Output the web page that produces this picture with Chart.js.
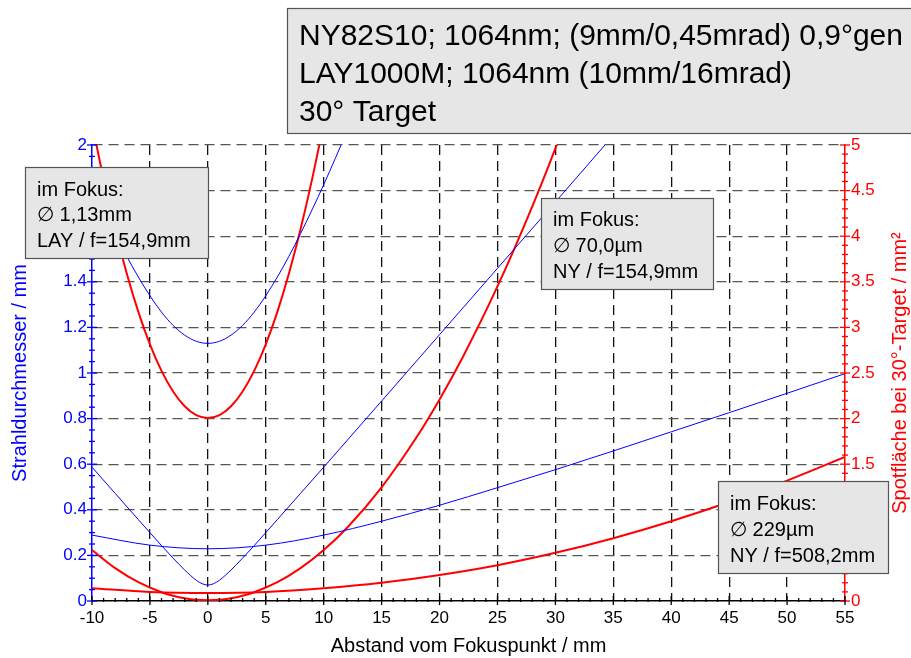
<!DOCTYPE html>
<html>
<head>
<meta charset="utf-8">
<script src="https://cdn.jsdelivr.net/npm/chart.js"></script>
<style>
  html, body { margin: 0; padding: 0; background: #fff; }
  #wrap { position: relative; width: 911px; height: 658px; }
</style>
</head>
<body>
<div id="wrap"><canvas id="chart" width="911" height="658"></canvas></div>
<script>
// LAY1000M, f=154,9mm
const layX = [-10, -9, -8, -7, -6, -5, -4, -3, -2, -1, 0, 1, 2, 3, 4, 5, 6, 7, 8, 9, 10, 11, 12];
const layDiameter = [1.826, 1.716, 1.611, 1.512, 1.421, 1.339, 1.267, 1.209, 1.166, 1.139, 1.13,
                     1.139, 1.166, 1.209, 1.267, 1.339, 1.421, 1.512, 1.611, 1.716, 1.826, 1.941, 2.06];
const layArea = [5.24, 4.626, 4.076, 3.591, 3.17, 2.814, 2.523, 2.297, 2.135, 2.038, 2.006,
                 2.038, 2.135, 2.297, 2.523, 2.814, 3.17, 3.591, 4.076, 4.626, 5.24, 5.918, 6.663];

// NY82S10, f=154,9mm
const ny155X = [-10, -8, -6, -4, -3, -2, -1, -0.5, 0, 0.5, 1, 2, 3, 4, 6, 8, 10, 15, 20, 25, 30, 35];
const ny155Diameter = [0.587, 0.472, 0.357, 0.243, 0.188, 0.136, 0.091, 0.076, 0.07, 0.076, 0.091,
                       0.136, 0.188, 0.243, 0.357, 0.472, 0.587, 0.877, 1.168, 1.459, 1.75, 2.042];
const ny155AreaX = [-10, -8, -6, -4, -3, -2, -1, 0, 1, 2, 3, 4, 6, 8, 10, 12, 15, 18, 20, 22, 25, 28, 30, 32];
const ny155Area = [0.559, 0.36, 0.206, 0.096, 0.058, 0.03, 0.013, 0.008, 0.013, 0.03, 0.058, 0.096,
                   0.206, 0.36, 0.559, 0.801, 1.247, 1.792, 2.21, 2.673, 3.449, 4.325, 4.964, 5.647];

// NY82S10, f=508,2mm
const ny508X = [-10, -5, 0, 5, 10, 15, 20, 25, 30, 35, 40, 45, 50, 55];
const ny508Diameter = [0.289, 0.245, 0.229, 0.245, 0.289, 0.35, 0.42, 0.497, 0.576, 0.658, 0.742, 0.826, 0.911, 0.997];
const ny508Area = [0.14, 0.1, 0.088, 0.1, 0.14, 0.2, 0.285, 0.392, 0.528, 0.689, 0.875, 1.085, 1.32, 1.579];

const titleLines = ["NY82S10; 1064nm; (9mm/0,45mrad) 0,9°gen", "LAY1000M; 1064nm (10mm/16mrad)", "30° Target"];
const notes = [
  { box: [25, 167, 183, 91], lines: ["im Fokus:", "\u2205 1,13mm", "LAY / f=154,9mm"], rows: [190, 215, 241] },
  { box: [541, 198, 172, 91], lines: ["im Fokus:", "\u2205 70,0µm", "NY / f=154,9mm"], rows: [220, 246, 272] },
  { box: [718, 481, 170, 92], lines: ["im Fokus:", "\u2205 229µm", "NY / f=508,2mm"], rows: [504, 530, 556] }
];

const BLUE = "#0000ff";
const RED = "#ff0000";
const FONT = "'Liberation Sans', Arial, sans-serif";
Chart.defaults.font.family = FONT;
Chart.defaults.font.size = 17;

const pts = (xs, ys) => xs.map((x, i) => ({ x: x, y: ys[i] }));
const fmt = v => String(Math.round(v * 100) / 100);

function line(label, data, color, width, axis) {
  return {
    label: label, data: data, yAxisID: axis,
    borderColor: color, borderWidth: width,
    pointRadius: 0, fill: false,
    cubicInterpolationMode: "monotone"
  };
}

const decor = {
  id: "decor",
  afterDatasetsDraw(chart) {
    const { ctx, scales } = chart;
    const x = scales.x, y = scales.y, y2 = scales.y2;
    ctx.save();
    ctx.lineWidth = 1.3;
    // left axis ticks
    ctx.strokeStyle = BLUE;
    for (let i = 0; i <= 40; i++) {
      const py = y.getPixelForValue(i * 0.05);
      const len = i % 4 === 0 ? 5 : 3;
      ctx.beginPath(); ctx.moveTo(x.left - len, py); ctx.lineTo(x.left + len, py); ctx.stroke();
    }
    // right axis ticks
    ctx.strokeStyle = RED;
    for (let i = 0; i <= 50; i++) {
      const py = y2.getPixelForValue(i * 0.1);
      const len = i % 5 === 0 ? 5 : 3;
      ctx.beginPath(); ctx.moveTo(x.right - len, py); ctx.lineTo(x.right + len, py); ctx.stroke();
    }
    // bottom ticks
    ctx.strokeStyle = "#000";
    for (let v = -10; v <= 55; v++) {
      const px = x.getPixelForValue(v);
      const major = v % 5 === 0;
      ctx.beginPath();
      ctx.moveTo(px, y.bottom - (major ? 5 : 3));
      ctx.lineTo(px, y.bottom + (major ? 4 : 1));
      ctx.stroke();
    }
    ctx.restore();
  },
  afterDraw(chart) {
    const { ctx, scales } = chart;
    ctx.save();
    // title box
    ctx.fillStyle = "#e6e6e6";
    ctx.strokeStyle = "#555";
    ctx.lineWidth = 1.2;
    ctx.fillRect(287, 8, 640, 125);
    ctx.strokeRect(287.5, 8.5, 640, 125);
    ctx.fillStyle = "#000";
    ctx.font = "30px " + FONT;
    ctx.textBaseline = "middle";
    ctx.textAlign = "left";
    titleLines.forEach((t, i) => ctx.fillText(t, 299, 37 + i * 38));
    // annotation boxes
    ctx.font = "20px " + FONT;
    notes.forEach(n => {
      const [bx, by, bw, bh] = n.box;
      ctx.fillStyle = "#e6e6e6";
      ctx.fillRect(bx, by, bw, bh);
      ctx.strokeStyle = "#555";
      ctx.strokeRect(bx + 0.5, by + 0.5, bw, bh);
      ctx.fillStyle = "#000";
      n.lines.forEach((t, i) => ctx.fillText(t, bx + 12, n.rows[i]));
    });
    // right axis title
    ctx.translate(900, (scales.y.top + scales.y.bottom) / 2);
    ctx.rotate(-Math.PI / 2);
    ctx.textAlign = "center";
    ctx.fillStyle = RED;
    ctx.fillText("Spotfläche bei 30°-Target / mm²", 0, 0);
    ctx.restore();
  }
};

new Chart(document.getElementById("chart"), {
  type: "line",
  data: {
    datasets: [
      line("LAY Durchmesser", pts(layX, layDiameter), BLUE, 1, "y"),
      line("NY 154,9 Durchmesser", pts(ny155X, ny155Diameter), BLUE, 1, "y"),
      line("NY 508,2 Durchmesser", pts(ny508X, ny508Diameter), BLUE, 1, "y"),
      line("LAY Spotfläche", pts(layX, layArea), RED, 2, "y2"),
      line("NY 154,9 Spotfläche", pts(ny155AreaX, ny155Area), RED, 2, "y2"),
      line("NY 508,2 Spotfläche", pts(ny508X, ny508Area), RED, 2, "y2")
    ]
  },
  options: {
    responsive: false,
    animation: false,
    layout: { padding: { top: 145, left: 0, right: 0, bottom: 0 } },
    plugins: { legend: { display: false }, tooltip: { enabled: false } },
    scales: {
      x: {
        type: "linear", min: -10, max: 55,
        ticks: { stepSize: 5, color: "#000", padding: 7, autoSkip: false, maxRotation: 0, callback: fmt },
        grid: {
          drawTicks: false, lineWidth: 1.3,
          color: c => (c.tick && (c.tick.value === -10 || c.tick.value === 55)) ? "rgba(0,0,0,0)" : "#111"
        },
        border: { color: "#000", width: 1.5, dash: [10, 6] },
        title: { display: true, text: "Abstand vom Fokuspunkt / mm", color: "#000", font: { size: 20 }, padding: { top: 0, bottom: 0 } },
        afterFit: s => { s.height = 57; }
      },
      y: {
        position: "left", min: 0, max: 2,
        ticks: { stepSize: 0.2, color: BLUE, padding: 5, callback: fmt },
        grid: {
          drawTicks: false, lineWidth: 1.3,
          color: c => (c.tick && c.tick.value === 0) ? "rgba(0,0,0,0)" : "#555"
        },
        border: { color: BLUE, width: 1.5, dash: [10, 6] },
        title: { display: true, text: "Strahldurchmesser / mm", color: BLUE, font: { size: 20 }, padding: { top: 8 } },
        afterFit: s => { s.width = 92; }
      },
      y2: {
        position: "right", min: 0, max: 5,
        ticks: { stepSize: 0.5, color: RED, padding: 6, callback: fmt },
        grid: { display: false, drawTicks: false },
        border: { color: RED, width: 1.5 },
        afterFit: s => { s.width = 66; }
      }
    }
  },
  plugins: [decor]
});
</script>
</body>
</html>
